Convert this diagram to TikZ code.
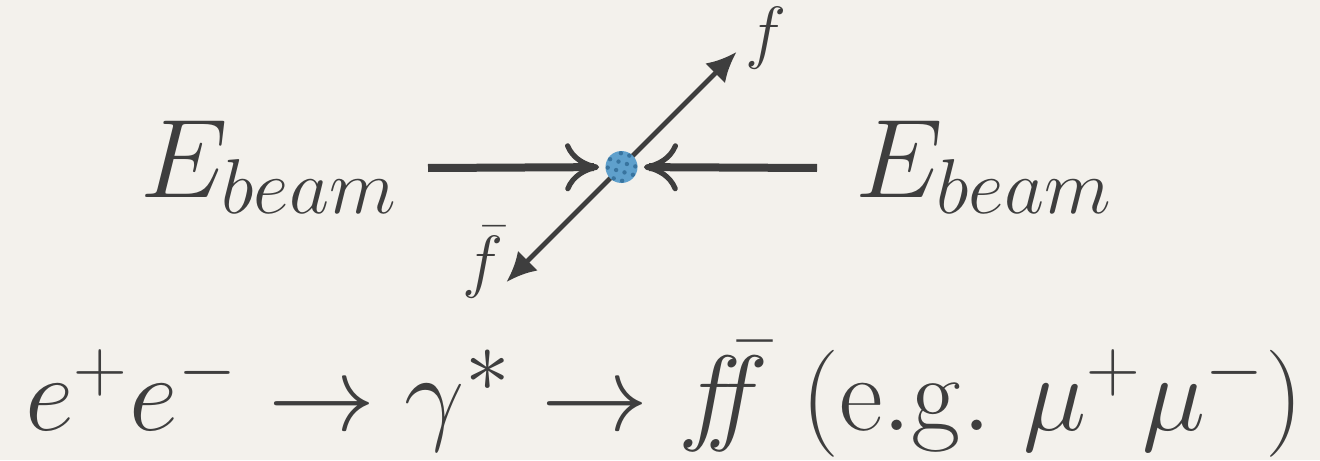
\documentclass[tikz,border=0pt]{standalone}
\usetikzlibrary{arrows.meta,positioning}
\definecolor{paper}{HTML}{F3F1EC}
\definecolor{inkgray}{HTML}{3E3E3E}
\definecolor{dotblue}{HTML}{5FA0CC}
\definecolor{dotdark}{HTML}{2C6690}
\newcommand\ebeam{\scalebox{2.25}{\Huge$E_{\scriptscriptstyle beam}$}}

\begin{document}
\begin{tikzpicture}[
    x=0.5pt, y=-0.5pt,
    big/.style={text=inkgray, inner sep=0pt},
    lbl/.style={text=inkgray, inner sep=0pt, scale=1.4, font=\Huge},
    beam/.style={draw=inkgray, line width=4pt, -{Computer Modern Rightarrow[length=17pt, width=24pt, line width=2.6pt]}},
    outgo/.style={draw=inkgray, line width=2.4pt, {Latex[length=15pt, width=14pt]}-{Latex[length=15pt, width=14pt]}},
    vertex/.style={circle, inner sep=0pt, minimum size=16pt, fill=dotblue, path picture={
        \foreach \i in {-1.5,-0.5,0.5,1.5}
          \foreach \j in {-1.5,-0.5,0.5,1.5}
            \fill[dotdark, opacity=.75] ([shift={(\i*4.2pt+\j*1.2pt,\j*4.2pt-\i*1.2pt)}]path picture bounding box.center) circle (1.1pt);
    }}
]
    \fill[paper] (0,0) rectangle (1320,460);
    \useasboundingbox (0,0) rectangle (1320,460);

    % collision point
    \coordinate (vtx) at (621.5,167);
    \coordinate (inL) at (428,168);
    \coordinate (inR) at (817,168);
    \coordinate (fup) at (736.5,52);
    \coordinate (fdn) at (506.5,282);

    \node[big, anchor=base west] (ebL) at (140,197) {\ebeam};
    \node[big, anchor=base west] (ebR) at (855,197) {\ebeam};

    % outgoing pair, then the dot on top
    \draw[outgo] (fdn) -- (fup);
    \node[vertex] (dot) at (vtx) {};
    \draw[beam, shorten >=3pt] (inL) -- (dot);
    \draw[beam, shorten >=3pt] (inR) -- (dot);

    \node[lbl, right=4pt of fup, yshift=5pt] (flab) {$f$};
    \node[lbl, left=1pt of fdn, yshift=7pt] (fbarlab) {$\bar f$};

    \node[big, anchor=base west] (proc) at (25,430)
      {\resizebox{639pt}{!}{\Huge$e^{\scriptscriptstyle +}e^{\scriptscriptstyle -}\to\gamma^{*}\to f\!\!\bar f\ \mathrm{(e.g.}\ \mu^{\scriptscriptstyle +}\mu^{\scriptscriptstyle -}\mathrm{)}$}};
\end{tikzpicture}
\end{document}
